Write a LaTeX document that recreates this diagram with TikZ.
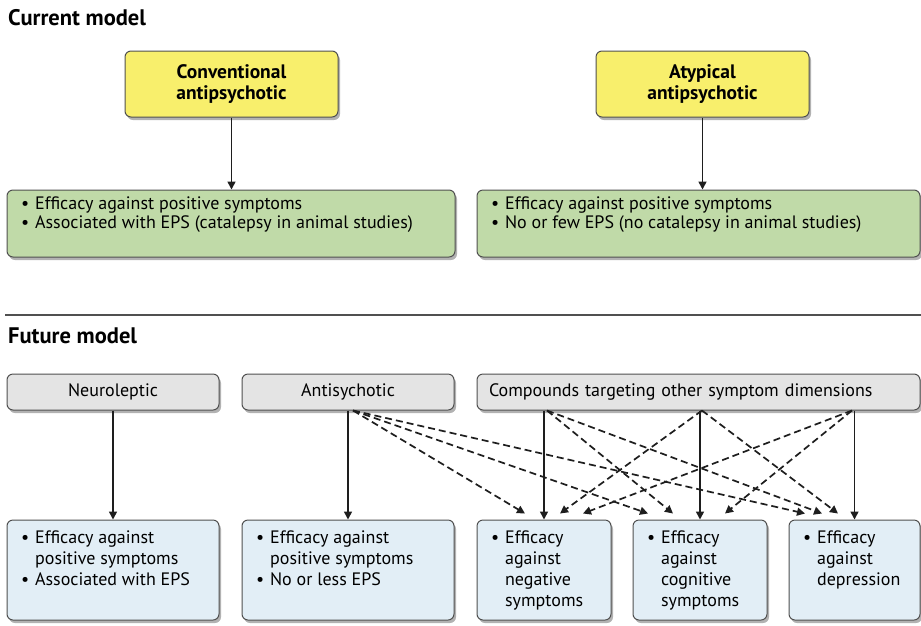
\documentclass[tikz,border=0pt]{standalone}
\usepackage{fontspec}
\setmainfont{PT Sans}
\usetikzlibrary{arrows.meta,shadows,calc}
\definecolor{yfill}{HTML}{F8EF6C}
\definecolor{gfill}{HTML}{C0DAA8}
\definecolor{grfill}{HTML}{E4E4E4}
\definecolor{bfill}{HTML}{E2EEF6}
\definecolor{edge}{HTML}{505050}
\definecolor{ink}{HTML}{1E1E1E}
% width, height, top space, left space, leading, rows
\newcommand\bultxt[6]{\parbox[c][#2][t]{#1}{\vspace*{#3}\hspace*{#4}\fontsize{18}{#5}\selectfont\begin{tabular}[t]{@{}l@{\hspace{6pt}}l@{}}#6\end{tabular}}}
\tikzset{
  basebox/.style={draw=edge, line width=1pt, rounded corners=6pt, inner sep=0pt,
    drop shadow={shadow xshift=2pt, shadow yshift=-3pt, opacity=0.3, fill=black}},
  ybox/.style={basebox, fill=yfill, align=center, font=\bfseries\fontsize{19.5}{21.5}\selectfont},
  gbox/.style={basebox, fill=gfill},
  grbox/.style={basebox, fill=grfill, minimum height=36pt, font=\fontsize{18}{20}\selectfont},
  bbox/.style={basebox, fill=bfill},
  title/.style={anchor=base west, inner sep=0pt, font=\bfseries\fontsize{22.5}{24}\selectfont},
  solidarr/.style={draw=ink, line width=1.6pt, -{Triangle[length=8pt,width=8pt]}},
  dasharr/.style={draw=ink, line width=1.7pt, dash pattern=on 7pt off 4pt, -{Triangle[length=8pt,width=8pt]}}
}
\begin{document}
\begin{tikzpicture}[x=1pt,y=-1pt]
\useasboundingbox (0,0) rectangle (921,625);
\fill[white] (0,0) rectangle (921,625);

% Current model
\node[title] (t1) at (8,25) {Current model};
\node[ybox, minimum width=213pt, minimum height=66pt] (conv) at (231.5,84) {Conventional\\antipsychotic};
\node[ybox, minimum width=213pt, minimum height=66pt] (atyp) at (702.5,84) {Atypical\\antipsychotic};
\node[gbox] (g1) at (231,223.5) {\bultxt{448pt}{67pt}{6.5pt}{14pt}{19}{\textbullet & Efficacy against positive symptoms\\ \textbullet & Associated with EPS (catalepsy in animal studies)}};
\node[gbox] (g2) at (698.5,223.5) {\bultxt{443pt}{67pt}{6.5pt}{14pt}{19}{\textbullet & Efficacy against positive symptoms\\ \textbullet & No or few EPS (no catalepsy in animal studies)}};
\draw[solidarr] (conv.south) -- (conv.south |- g1.north);
\draw[solidarr] (atyp.south) -- (atyp.south |- g2.north);

% separator
\draw[edge, line width=1.1pt] (5,315) -- (921,315);

% Future model
\node[title] (t2) at (8,343) {Future model};
\node[grbox, minimum width=212pt] (neuro) at (113,392) {Neuroleptic};
\node[grbox, minimum width=212pt] (anti) at (348,392) {Antisychotic};
\node[grbox, minimum width=443pt, text width=419pt, align=left] (comp) at (698.5,392) {Compounds targeting other symptom dimensions};

\node[bbox] (b1) at (113,570) {\bultxt{212pt}{100pt}{9pt}{14pt}{21}{\textbullet & Efficacy against\\ & positive symptoms\\ \textbullet & Associated with EPS}};
\node[bbox] (b2) at (348,570) {\bultxt{212pt}{100pt}{9pt}{14pt}{21}{\textbullet & Efficacy against\\ & positive symptoms\\ \textbullet & No or less EPS}};
\node[bbox] (b3) at (544,570) {\bultxt{134pt}{100pt}{9pt}{14pt}{21}{\textbullet & Efficacy\\ & against\\ & negative\\ & symptoms}};
\node[bbox] (b4) at (700,570) {\bultxt{134pt}{100pt}{9pt}{14pt}{21}{\textbullet & Efficacy\\ & against\\ & cognitive\\ & symptoms}};
\node[bbox] (b5) at (854.5,570) {\bultxt{131pt}{100pt}{9pt}{14pt}{21}{\textbullet & Efficacy\\ & against\\ & depression}};

% solid arrows
\draw[solidarr] (neuro.south) -- (b1.north);
\draw[solidarr] (anti.south) -- (b2.north);
\draw[solidarr] (b3.north |- comp.south) -- (b3.north);
\draw[solidarr] (b4.north |- comp.south) -- (b4.north);
\draw[solidarr] (b5.north |- comp.south) -- (b5.north);

% dashed arrows
\coordinate (aO) at ($(anti.south)+(5,0)$);
\coordinate (cL) at ($(comp.south)+(-151.5,0)$);
\coordinate (cM) at ($(comp.south)+(3.5,0)$);
\coordinate (cR) at ($(comp.south)+(153.5,0)$);
\draw[dasharr] (aO) -- ($(b3.north)+(-19,-6)$);
\draw[dasharr] (aO) -- ($(b4.north)+(-52,-6)$);
\draw[dasharr] (aO) -- ($(b5.north)+(-49.5,-6)$);
\draw[dasharr] (cL) -- ($(b4.north)+(-27,-6)$);
\draw[dasharr] (cL) -- ($(b5.north)+(-32.5,-6)$);
\draw[dasharr] (cM) -- ($(b3.north)+(16,-6)$);
\draw[dasharr] (cM) -- ($(b5.north)+(-16.5,-6)$);
\draw[dasharr] (cR) -- ($(b3.north)+(39,-6)$);
\draw[dasharr] (cR) -- ($(b4.north)+(25,-6)$);
\end{tikzpicture}
\end{document}
